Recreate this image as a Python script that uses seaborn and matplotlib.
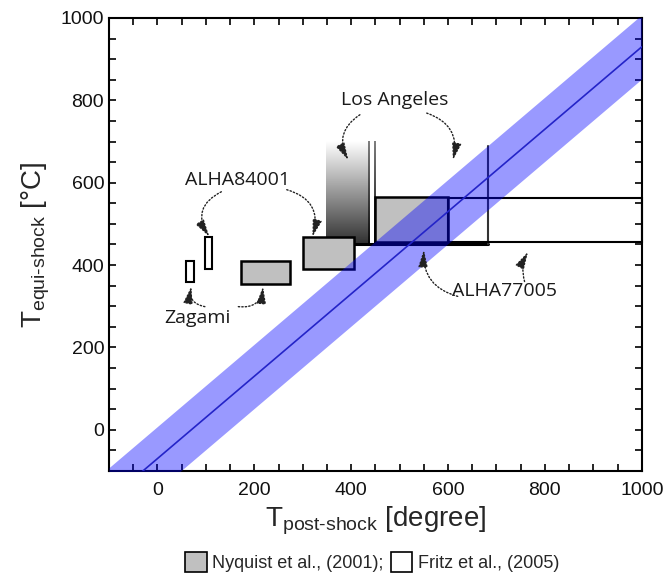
import numpy as np
import pandas as pd
import matplotlib
matplotlib.use("Agg")
import matplotlib.pyplot as plt
from matplotlib.patches import Rectangle, Patch
from matplotlib.ticker import MultipleLocator
import seaborn as sns

sns.set_theme(style="ticks")
plt.rcParams["font.family"] = ["Liberation Sans", "DejaVu Sans"]
plt.rcParams["mathtext.fontset"] = "custom"
plt.rcParams["mathtext.rm"] = "Liberation Sans"
plt.rcParams["mathtext.it"] = "Liberation Sans"

# Nyquist et al. (2001) ranges: Zagami, ALHA84001, ALHA77005
nyq_x0 = [172, 300, 450]
nyq_x1 = [273, 405, 600]
nyq_y0 = [355, 390, 455]
nyq_y1 = [410, 467, 565]

# Fritz et al. (2005) closed ranges: Zagami, ALHA84001, ALHA77005
fritz_x0 = [60, 98, 600]
fritz_x1 = [76, 113, 1000]
fritz_y0 = [360, 390, 455]
fritz_y1 = [410, 467, 562]

# Los Angeles: lower bounds only (open towards higher T_equi)
la_grad_x = [348, 436]
la_grad_y = [450, 700]
la_open_x = [450, 683]
la_open_y = [452, 690]

# equilibrium relation and its uncertainty
eq_offset = -70
eq_halfwidth = 78
t_post = [-100, 1000]

fig = plt.figure(figsize=(6.63, 5.8), dpi=100)
ax = fig.add_axes([0.1644, 0.188, 0.8036, 0.781])
ax.set_xlim(-100, 1000)
ax.set_ylim(-100, 1000)

# Los Angeles gradient column (white at top, dark at the bottom)
grad = np.linspace(0.85, 0.0, 256).reshape(-1, 1)
ax.imshow(grad, extent=[la_grad_x[0], la_grad_x[1], la_grad_y[0], la_grad_y[1]],
          origin="upper", cmap="gray", vmin=-0.2, vmax=0.85, aspect="auto", zorder=2)

# fading side lines of the open Los Angeles range
side = np.linspace(0.5, 0.03, 256).reshape(-1, 1)
for xv in (la_grad_x[1], la_open_x[0]):
    ax.imshow(side, extent=[xv - 2, xv + 2, la_grad_y[0], la_grad_y[1]],
              origin="upper", cmap="gray", vmin=0, vmax=1, aspect="auto", zorder=3)
ax.plot([la_grad_x[0], la_open_x[1]], [la_open_y[0], la_open_y[0]], color="black", lw=2.2, zorder=3)
ax.plot([la_open_x[1], la_open_x[1]], [la_open_y[0], la_open_y[1]], color="#333333", lw=1.5, zorder=3)

for x0, x1, y0, y1 in zip(nyq_x0, nyq_x1, nyq_y0, nyq_y1):
    ax.add_patch(Rectangle((x0, y0), x1 - x0, y1 - y0, facecolor="#c0c0c0",
                           edgecolor="black", lw=1.8, zorder=3))
for x0, x1, y0, y1 in zip(fritz_x0, fritz_x1, fritz_y0, fritz_y1):
    ax.add_patch(Rectangle((x0, y0), x1 - x0, y1 - y0, facecolor="none",
                           edgecolor="black", lw=1.5, zorder=3, clip_on=False))

# equilibrium band and line
tx = np.array(t_post, dtype=float)
ax.fill_between(tx, tx + eq_offset - eq_halfwidth, tx + eq_offset + eq_halfwidth,
                color="blue", alpha=0.4, lw=0, zorder=4)
line_df = pd.DataFrame({"post": tx, "equi": tx + eq_offset})
sns.lineplot(data=line_df, x="post", y="equi", color="#2424c8", lw=1.2, ax=ax, zorder=5)

# labels with dotted arrows
lab_font = dict(family=["Open Sans", "DejaVu Sans"], fontsize=14, color="#1a1a1a")
ax.text(490, 801, "Los Angeles", ha="center", va="center", zorder=6, **lab_font)
ax.text(166, 607, "ALHA84001", ha="center", va="center", zorder=6, **lab_font)
ax.text(82, 272, "Zagami", ha="center", va="center", zorder=6, **lab_font)
ax.text(717, 337, "ALHA77005", ha="center", va="center", zorder=6, **lab_font)

arrows = [
    ((418, 765), (394, 655), 0.45),
    ((556, 769), (610, 655), -0.45),
    ((132, 578), (107, 469), 0.55),
    ((267, 583), (320, 469), -0.5),
    ((98, 299), (70, 348), -0.5),
    ((167, 299), (218, 348), 0.5),
    ((620, 324), (550, 437), -0.4),
    ((758, 360), (765, 432), -0.2),
]
for start, end, rad in arrows:
    ax.annotate("", xy=end, xytext=start, zorder=6,
                arrowprops=dict(arrowstyle="-|>,head_length=0.8,head_width=0.22",
                                connectionstyle=f"arc3,rad={rad}", color="#222222",
                                lw=1.0, linestyle=(0, (1, 1.5)), shrinkA=0, shrinkB=0,
                                mutation_scale=13))

ax.xaxis.set_major_locator(MultipleLocator(200))
ax.yaxis.set_major_locator(MultipleLocator(200))
ax.xaxis.set_minor_locator(MultipleLocator(50))
ax.yaxis.set_minor_locator(MultipleLocator(50))
ax.tick_params(which="both", direction="in", top=True, right=True, length=5, width=1.2,
               color="black")
ax.tick_params(which="major", labelsize=14, labelcolor="#111111")
ax.tick_params(axis="x", which="major", pad=8)
for s in ax.spines.values():
    s.set_linewidth(1.5)
    s.set_color("black")
ax.set_xlabel(r"T$_{\text{post-shock}}$ [degree]", fontsize=20, labelpad=4)
ax.set_ylabel(r"T$_{\text{equi-shock}}$ [°C]", fontsize=20, labelpad=6)

handles = [Patch(facecolor="#c0c0c0", edgecolor="black", lw=1.2),
           Patch(facecolor="white", edgecolor="black", lw=1.2)]
fig.legend(handles, ["Nyquist et al., (2001);", "Fritz et al., (2005)"], ncol=2,
           loc="center", bbox_to_anchor=(0.561, 0.031), frameon=False,
           prop=dict(family=["Liberation Sans Narrow", "Liberation Sans"], size=13),
           handlelength=1.2, handleheight=1.3, handletextpad=0.3, columnspacing=0.4)

fig.savefig("out.png", dpi=100)
